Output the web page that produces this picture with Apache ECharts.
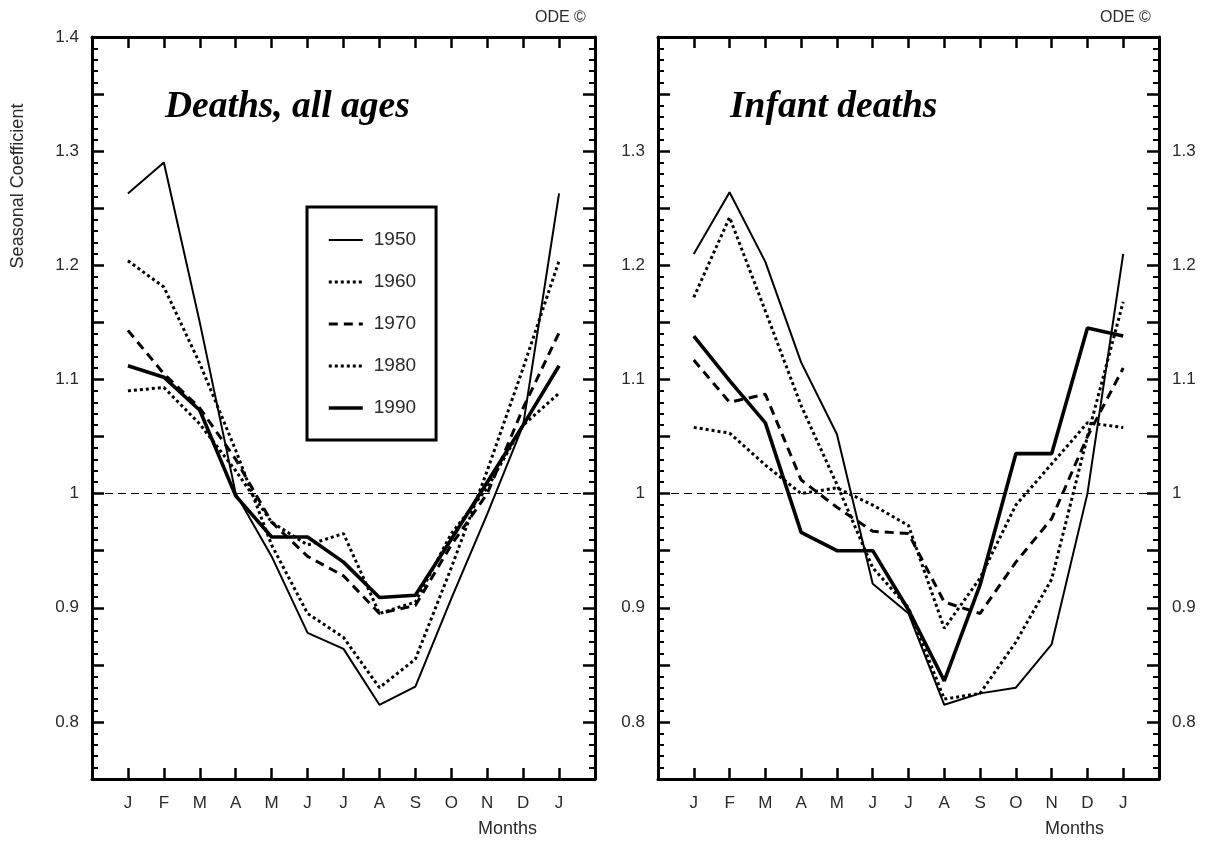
<!DOCTYPE html>
<html>
<head>
<meta charset="utf-8">
<title>Seasonal coefficients of deaths</title>
<script src="https://cdn.jsdelivr.net/npm/echarts@6/dist/echarts.min.js"></script>
<style>
  html, body { margin: 0; padding: 0; background: #fff; }
  #chart { width: 1210px; height: 845px; }
</style>
</head>
<body>
<div id="chart"></div>
<script>
// Month tick labels (January repeated at the end of the year)
const MONTHS = ['J', 'F', 'M', 'A', 'M', 'J', 'J', 'A', 'S', 'O', 'N', 'D', 'J'];
const YEARS = ['1950', '1960', '1970', '1980', '1990'];

// Seasonal coefficients, deaths at all ages
const allAges1950 = [1.263, 1.290, 1.150, 1.000, 0.945, 0.878, 0.864, 0.815, 0.831, 0.908, 0.982, 1.060, 1.263];
const allAges1960 = [1.204, 1.181, 1.114, 1.038, 0.955, 0.895, 0.874, 0.830, 0.855, 0.935, 1.020, 1.110, 1.204];
const allAges1970 = [1.143, 1.105, 1.075, 1.030, 0.975, 0.945, 0.928, 0.895, 0.902, 0.955, 1.000, 1.075, 1.141];
const allAges1980 = [1.090, 1.093, 1.061, 1.020, 0.975, 0.955, 0.965, 0.895, 0.905, 0.965, 1.005, 1.060, 1.088];
const allAges1990 = [1.112, 1.102, 1.073, 0.998, 0.962, 0.962, 0.940, 0.909, 0.911, 0.960, 1.010, 1.060, 1.112];

// Seasonal coefficients, infant deaths
const infant1950 = [1.210, 1.264, 1.203, 1.115, 1.052, 0.921, 0.895, 0.815, 0.825, 0.830, 0.868, 1.000, 1.210];
const infant1960 = [1.172, 1.242, 1.160, 1.077, 1.008, 0.935, 0.900, 0.820, 0.825, 0.870, 0.925, 1.050, 1.168];
const infant1970 = [1.117, 1.080, 1.087, 1.012, 0.988, 0.967, 0.965, 0.905, 0.895, 0.940, 0.978, 1.050, 1.110];
const infant1980 = [1.058, 1.053, 1.025, 1.000, 1.005, 0.990, 0.972, 0.882, 0.926, 0.990, 1.026, 1.062, 1.058];
const infant1990 = [1.138, 1.099, 1.062, 0.966, 0.950, 0.950, 0.898, 0.836, 0.920, 1.035, 1.035, 1.145, 1.138];

const allAges = [allAges1950, allAges1960, allAges1970, allAges1980, allAges1990];
const infant = [infant1950, infant1960, infant1970, infant1980, infant1990];

// Line look for each decade
const LINE_STYLES = [
  { width: 2, type: 'solid' },
  { width: 3, type: [3, 3] },
  { width: 3, type: [9, 6] },
  { width: 3, type: [3, 3] },
  { width: 3.6, type: 'solid' }
];

const FONT = '"Liberation Sans", Arial, sans-serif';
const SERIF = '"Liberation Serif", "Times New Roman", serif';
const LABEL_COLOR = '#2a2a2a';

function yLabel(v) {
  const c = Math.round(v * 100);
  if (c % 10 !== 0 || c < 80) return '';
  return c === 100 ? '1' : (c / 100).toFixed(1);
}

function xAxisDef(gridIndex, position, showLabels) {
  return {
    type: 'value', gridIndex: gridIndex, position: position,
    min: -1, max: 13, interval: 1,
    axisLine: { show: true, onZero: false, lineStyle: { color: '#000', width: 3 } },
    axisTick: { show: true, inside: true, length: 11, lineStyle: { color: '#000', width: 2.5 } },
    splitLine: { show: false },
    axisLabel: {
      show: showLabels, margin: 16, fontSize: 17, color: LABEL_COLOR, fontFamily: FONT,
      formatter: function (v) { return (v >= 0 && v <= 12) ? MONTHS[v] : ''; }
    }
  };
}

function yAxisDef(gridIndex, position, showLabels, showMax) {
  return {
    type: 'value', gridIndex: gridIndex, position: position,
    min: 0.75, max: 1.4, interval: 0.05,
    axisLine: { show: true, onZero: false, lineStyle: { color: '#000', width: 3 } },
    axisTick: { show: true, inside: true, length: 12, lineStyle: { color: '#000', width: 2.5 } },
    minorTick: { show: true, splitNumber: 5, length: 6, lineStyle: { color: '#000', width: 2 } },
    splitLine: { show: false },
    minorSplitLine: { show: false },
    axisLabel: {
      show: showLabels, margin: 13, fontSize: 17, color: LABEL_COLOR, fontFamily: FONT,
      showMinLabel: false, showMaxLabel: showMax,
      formatter: yLabel
    }
  };
}

function panelSeries(values, xIndex, yIndex) {
  return values.map(function (arr, k) {
    const s = {
      type: 'line', name: YEARS[k],
      xAxisIndex: xIndex, yAxisIndex: yIndex,
      data: arr.map(function (v, i) { return [i, v]; }),
      symbol: 'none', smooth: false,
      lineStyle: { color: '#000', width: LINE_STYLES[k].width, type: LINE_STYLES[k].type },
      itemStyle: { color: '#000' },
      z: 3
    };
    if (k === 0) {
      // reference level at a coefficient of 1
      s.markLine = {
        silent: true, symbol: ['none', 'none'], label: { show: false },
        lineStyle: { color: '#000', width: 1, type: [8, 5] },
        data: [{ yAxis: 1 }], z: 2
      };
    }
    return s;
  });
}

const chart = echarts.init(document.getElementById('chart'), null, { renderer: 'canvas' });

chart.setOption({
  animation: false,
  backgroundColor: '#fff',
  grid: [
    { left: 92, top: 37, width: 503, height: 742 },
    { left: 658, top: 37, width: 501, height: 742 }
  ],
  xAxis: [
    xAxisDef(0, 'bottom', true),
    xAxisDef(0, 'top', false),
    xAxisDef(1, 'bottom', true),
    xAxisDef(1, 'top', false)
  ],
  yAxis: [
    yAxisDef(0, 'left', true, true),
    yAxisDef(0, 'right', false, false),
    yAxisDef(1, 'left', true, false),
    yAxisDef(1, 'right', true, false)
  ],
  legend: {
    data: YEARS.map(function (name, k) {
      return {
        name: name,
        lineStyle: { color: '#000', width: LINE_STYLES[k].width, type: LINE_STYLES[k].type }
      };
    }),
    orient: 'vertical',
    left: 307, top: 207,
    selectedMode: false,
    borderColor: '#000', borderWidth: 3, borderRadius: 0,
    padding: [23, 20, 22, 20],
    itemGap: 22, itemWidth: 34, itemHeight: 20,
    itemStyle: { color: 'rgba(0,0,0,0)', borderWidth: 0 },
    textStyle: { fontSize: 19, lineHeight: 20, color: LABEL_COLOR, fontFamily: FONT, padding: [0, 0, 0, 6] }
  },
  graphic: [
    { type: 'text', left: 535, top: 10, style: { text: 'ODE ©', fontSize: 16, fill: LABEL_COLOR, fontFamily: FONT } },
    { type: 'text', left: 1100, top: 10, style: { text: 'ODE ©', fontSize: 16, fill: LABEL_COLOR, fontFamily: FONT } },
    { type: 'text', left: 165, top: 88, style: { text: 'Deaths, all ages', fontSize: 37.5, fontWeight: 'bold', fontStyle: 'italic', fill: '#000', fontFamily: SERIF } },
    { type: 'text', left: 730, top: 88, style: { text: 'Infant deaths', fontSize: 37.5, fontWeight: 'bold', fontStyle: 'italic', fill: '#000', fontFamily: SERIF } },
    { type: 'text', x: 18, y: 186, rotation: Math.PI / 2, style: { text: 'Seasonal Coefficient', fontSize: 18, fill: LABEL_COLOR, fontFamily: FONT, align: 'center', verticalAlign: 'middle' } },
    { type: 'text', left: 478, top: 820, style: { text: 'Months', fontSize: 18, fill: LABEL_COLOR, fontFamily: FONT } },
    { type: 'text', left: 1045, top: 820, style: { text: 'Months', fontSize: 18, fill: LABEL_COLOR, fontFamily: FONT } }
  ],
  series: panelSeries(allAges, 0, 0).concat(panelSeries(infant, 2, 2))
});
</script>
</body>
</html>
